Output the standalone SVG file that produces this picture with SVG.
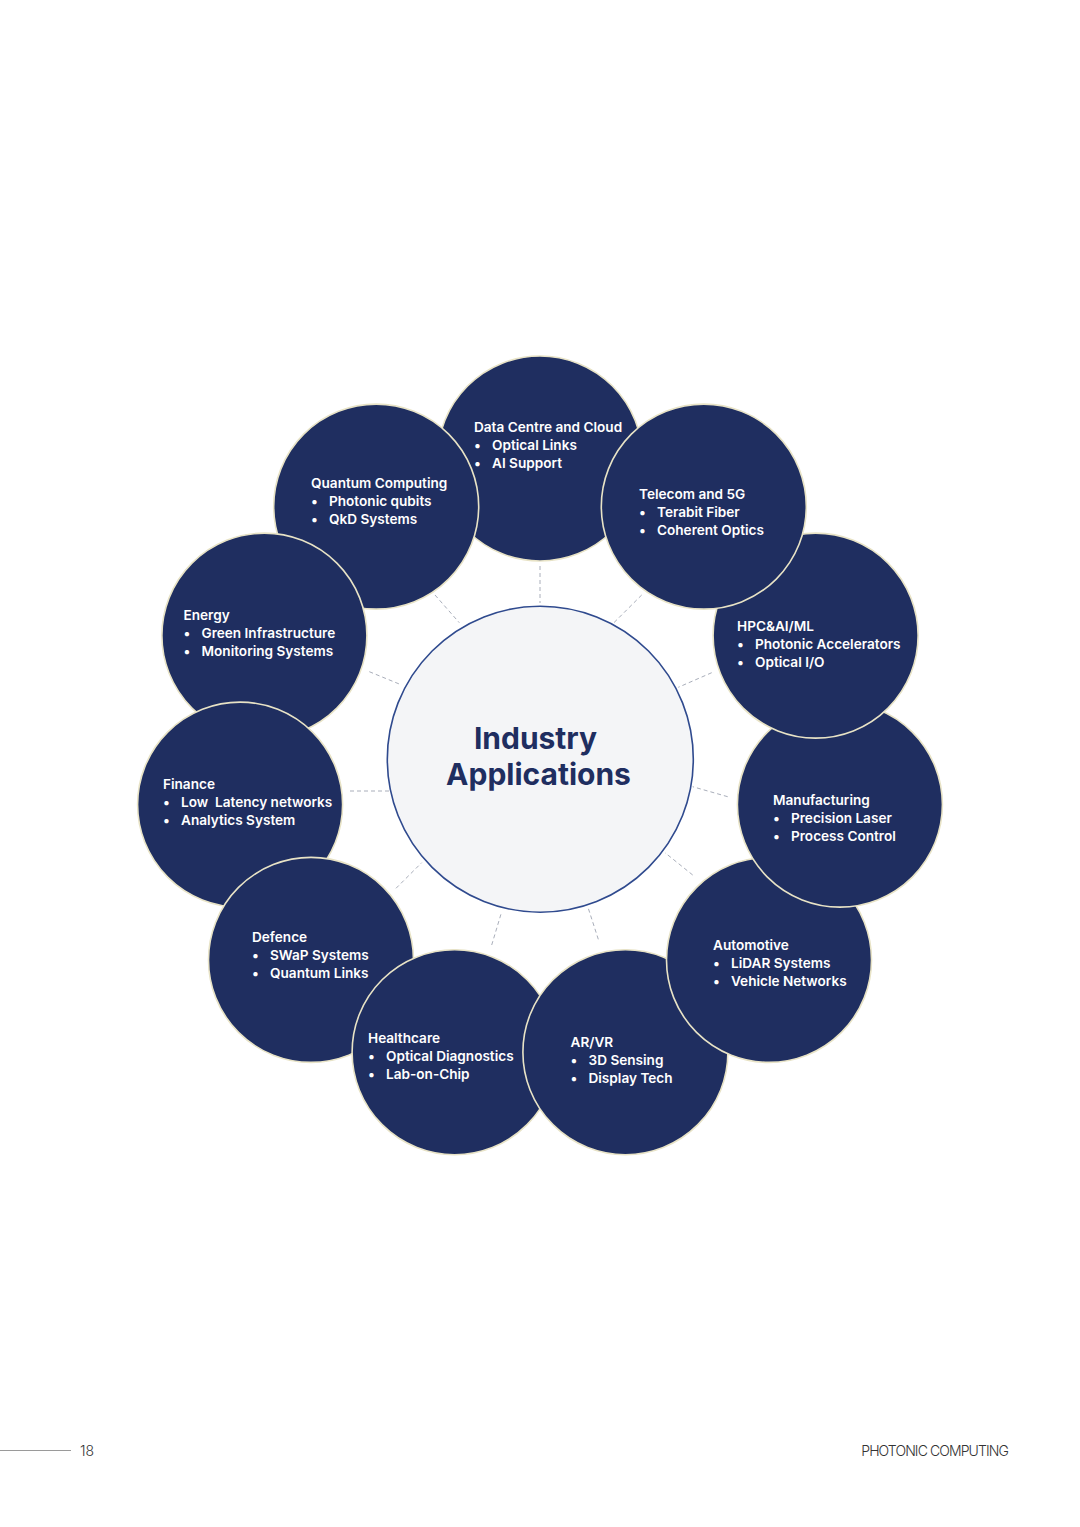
<svg xmlns="http://www.w3.org/2000/svg" width="1080" height="1527" viewBox="0 0 1080 1527">
<style>
.node{fill:#1f2e60;stroke:#e8e3c6;stroke-width:1.6}
.t{font-family:Inter,"DejaVu Sans",sans-serif;font-size:13.6px;font-weight:600;fill:#ffffff}
.conn{stroke:#a9aeba;stroke-width:1;stroke-dasharray:4 3;fill:none}
.center{fill:#f4f5f7;stroke:#2f4a8e;stroke-width:1.6}
.ct{font-family:Inter,"DejaVu Sans",sans-serif;font-size:30px;font-weight:700;fill:#1f2e60;text-anchor:middle}
.foot{font-family:Inter,"Liberation Sans",sans-serif;font-size:14px;font-weight:300;fill:#333333}
</style>
<rect width="1080" height="1527" fill="#ffffff"/>
<g id="connectors">
<line class="conn" x1="540" y1="566" x2="540" y2="603"/>
<line class="conn" x1="641.7" y1="595" x2="613.3" y2="623.3"/>
<line class="conn" x1="711.7" y1="672.7" x2="678.3" y2="687.3"/>
<line class="conn" x1="727.7" y1="796.7" x2="692.7" y2="786.7"/>
<line class="conn" x1="692.7" y1="875" x2="665" y2="852.7"/>
<line class="conn" x1="598.3" y1="939.3" x2="588.3" y2="908.3"/>
<line class="conn" x1="491.7" y1="945" x2="501.7" y2="911.7"/>
<line class="conn" x1="396" y1="888.3" x2="421.7" y2="862.7"/>
<line class="conn" x1="350" y1="791" x2="390" y2="791"/>
<line class="conn" x1="369.3" y1="671.7" x2="401.7" y2="685"/>
<line class="conn" x1="435" y1="595" x2="459.3" y2="622.7"/>
</g>
<g id="center">
<circle class="center" cx="540.3" cy="759.2" r="153"/>
<text class="ct" x="535.5" y="748.5">Industry</text>
<text class="ct" x="538.5" y="784.5">Applications</text>
</g>
<g id="node-datacentre">
<circle class="node" cx="540" cy="458.5" r="102.5"/>
<text class="t" x="474" y="432">Data Centre and Cloud</text>
<text class="t" x="474" y="450">•<tspan x="492">Optical Links</tspan></text>
<text class="t" x="474" y="468">•<tspan x="492">AI Support</tspan></text>
</g>
<g id="node-quantum">
<circle class="node" cx="376.2" cy="506.6" r="102.5"/>
<text class="t" x="311" y="488">Quantum Computing</text>
<text class="t" x="311" y="506">•<tspan x="329">Photonic qubits</tspan></text>
<text class="t" x="311" y="524">•<tspan x="329">QkD Systems</tspan></text>
</g>
<g id="node-energy">
<circle class="node" cx="264.4" cy="635.6" r="102.5"/>
<text class="t" x="183.5" y="619.5">Energy</text>
<text class="t" x="183.5" y="637.5">•<tspan x="201.5">Green Infrastructure</tspan></text>
<text class="t" x="183.5" y="655.5">•<tspan x="201.5">Monitoring Systems</tspan></text>
</g>
<g id="node-finance">
<circle class="node" cx="240.1" cy="804.6" r="102.5"/>
<text class="t" x="163" y="789">Finance</text>
<text class="t" x="163" y="807">•<tspan x="181" xml:space="preserve">Low  Latency networks</tspan></text>
<text class="t" x="163" y="825">•<tspan x="181">Analytics System</tspan></text>
</g>
<g id="node-defence">
<circle class="node" cx="311" cy="959.9" r="102.5"/>
<text class="t" x="252" y="942">Defence</text>
<text class="t" x="252" y="960">•<tspan x="270">SWaP Systems</tspan></text>
<text class="t" x="252" y="978">•<tspan x="270">Quantum Links</tspan></text>
</g>
<g id="node-healthcare">
<circle class="node" cx="454.6" cy="1052.2" r="102.5"/>
<text class="t" x="368" y="1043">Healthcare</text>
<text class="t" x="368" y="1061">•<tspan x="386">Optical Diagnostics</tspan></text>
<text class="t" x="368" y="1079">•<tspan x="386">Lab-on-Chip</tspan></text>
</g>
<g id="node-arvr">
<circle class="node" cx="625.4" cy="1052.2" r="102.5"/>
<text class="t" x="570.5" y="1047">AR/VR</text>
<text class="t" x="570.5" y="1065">•<tspan x="588.5">3D Sensing</tspan></text>
<text class="t" x="570.5" y="1083">•<tspan x="588.5">Display Tech</tspan></text>
</g>
<g id="node-automotive">
<circle class="node" cx="769" cy="959.9" r="102.5"/>
<text class="t" x="713" y="950">Automotive</text>
<text class="t" x="713" y="968">•<tspan x="731">LiDAR Systems</tspan></text>
<text class="t" x="713" y="986">•<tspan x="731">Vehicle Networks</tspan></text>
</g>
<g id="node-manufacturing">
<circle class="node" cx="839.9" cy="804.6" r="102.5"/>
<text class="t" x="773" y="805">Manufacturing</text>
<text class="t" x="773" y="823">•<tspan x="791">Precision Laser</tspan></text>
<text class="t" x="773" y="841">•<tspan x="791">Process Control</tspan></text>
</g>
<g id="node-hpc">
<circle class="node" cx="815.6" cy="635.6" r="102.5"/>
<text class="t" x="737" y="631">HPC&amp;AI/ML</text>
<text class="t" x="737" y="649">•<tspan x="755">Photonic Accelerators</tspan></text>
<text class="t" x="737" y="667">•<tspan x="755">Optical I/O</tspan></text>
</g>
<g id="node-telecom">
<circle class="node" cx="703.8" cy="506.6" r="102.5"/>
<text class="t" x="639" y="499">Telecom and 5G</text>
<text class="t" x="639" y="517">•<tspan x="657">Terabit Fiber</tspan></text>
<text class="t" x="639" y="535">•<tspan x="657">Coherent Optics</tspan></text>
</g>
<g id="footer">
<line x1="0" y1="1450.5" x2="71" y2="1450.5" stroke="#9a9a9a" stroke-width="1"/>
<text class="foot" x="80" y="1455.5">18</text>
<text class="foot" x="1008" y="1455.5" text-anchor="end" letter-spacing="-0.9">PHOTONIC COMPUTING</text>
</g>
</svg>
